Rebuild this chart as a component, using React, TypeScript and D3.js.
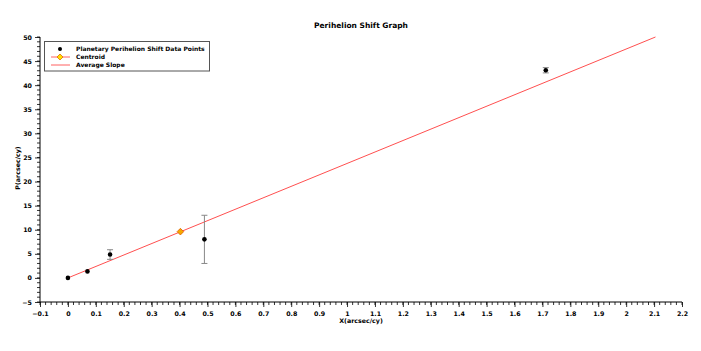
import React, { useEffect, useRef } from "react";
import * as d3 from "d3";

// planetary data points
const xs = [0, 0.07, 0.151, 0.489, 1.712];
const ps = [0, 1.35, 4.85, 8.0, 43.1];
const errs = [0, 0, 1.0, 5.0, 0.55];

const centroid = [0.403, 9.6];
const slopeLine = [[0, 0], [2.105, 50]];

const xTicks = d3.range(-0.1, 2.2001, 0.1).map(v => +v.toFixed(1));
const yTicks = d3.range(-5, 50.01, 5);

const legendLabels = ["Planetary Perihelion Shift Data Points", "Centroid", "Average Slope"];

// square rhombus path centred at 0,0
const rhombus = (s: number) => `M0,${-s}L${s},0L0,${s}L${-s},0Z`;

export default function App() {
	const ref = useRef<SVGSVGElement>(null);

	useEffect(() => {
		const svg = d3.select(ref.current);
		svg.selectAll("*").remove();
		const font = "'DejaVu Sans', sans-serif";

		const x = d3.scaleLinear().domain([-0.1, 2.2]).range([40, 682]);
		const y = d3.scaleLinear().domain([-5, 50]).range([302, 37]);

		// title
		svg.append("text").attr("x", 361).attr("y", 28).attr("text-anchor", "middle")
			.attr("font-family", font).attr("font-weight", "bold").attr("font-size", 7.5)
			.text("Perihelion Shift Graph");

		// x axis
		const xAxis = d3.axisBottom(x).tickValues(xTicks).tickSize(5).tickFormat(d => d3.format("")(d as number));
		const gx = svg.append("g").attr("transform", "translate(0,302)").call(xAxis);
		const xMinor = d3.range(-0.1, 2.2001, 0.02);
		gx.selectAll(".minor").data(xMinor).enter().append("line")
			.attr("x1", d => x(d)).attr("x2", d => x(d)).attr("y1", 0).attr("y2", 3)
			.attr("stroke", "#000").attr("stroke-width", 0.8);

		// y axis
		const yAxis = d3.axisLeft(y).tickValues(yTicks).tickSize(5);
		const gy = svg.append("g").attr("transform", "translate(40,0)").call(yAxis);
		const yMinor = d3.range(-5, 50.01, 1);
		gy.selectAll(".minor").data(yMinor).enter().append("line")
			.attr("x1", 0).attr("x2", -3).attr("y1", d => y(d)).attr("y2", d => y(d))
			.attr("stroke", "#000").attr("stroke-width", 0.8);

		[gx, gy].forEach(g => {
			g.selectAll("path.domain").attr("stroke", "#000").attr("stroke-width", 1);
			g.selectAll("text").attr("font-family", font).attr("font-weight", "bold").attr("font-size", 6.3).attr("fill", "#000");
			g.selectAll(".tick line").attr("stroke-width", 0.8);
		});
		gx.select("path.domain").attr("d", "M40,0H682");
		gy.select("path.domain").attr("d", "M0,302V37");
		gx.selectAll(".tick text").attr("dy", "0.9em");

		// axis labels
		svg.append("text").attr("x", 361).attr("y", 323).attr("text-anchor", "middle")
			.attr("font-family", font).attr("font-weight", "bold").attr("font-size", 6.3)
			.text("X(arcsec/cy)");
		svg.append("text").attr("transform", "translate(20,168) rotate(-90)").attr("text-anchor", "middle")
			.attr("font-family", font).attr("font-weight", "bold").attr("font-size", 6.3)
			.text("P(arcsec/cy)");

		// slope line
		const line = d3.line<number[]>().x(d => x(d[0])).y(d => y(d[1]));
		svg.append("path").datum(slopeLine).attr("d", line).attr("stroke", "#ff3030")
			.attr("stroke-width", 1).attr("fill", "none").attr("opacity", 0.85);

		// error bars
		const data = xs.map((v, i) => ({ x: v, p: ps[i], e: errs[i] }));
		const eb = svg.append("g").attr("stroke", "#888").attr("stroke-width", 1);
		data.filter(d => d.e > 0).forEach(d => {
			eb.append("line").attr("x1", x(d.x)).attr("x2", x(d.x)).attr("y1", y(d.p - d.e)).attr("y2", y(d.p + d.e));
			[d.p - d.e, d.p + d.e].forEach(v => {
				eb.append("line").attr("x1", x(d.x) - 3).attr("x2", x(d.x) + 3).attr("y1", y(v)).attr("y2", y(v));
			});
		});

		// points
		svg.append("g").selectAll("circle").data(data).enter().append("circle")
			.attr("cx", d => x(d.x)).attr("cy", d => y(d.p)).attr("r", 2.3).attr("fill", "#000");

		// centroid
		svg.append("path")
			.attr("d", rhombus(3.3))
			.attr("transform", `translate(${x(centroid[0])},${y(centroid[1])})`)
			.attr("fill", "#f5a800").attr("stroke", "#e06000").attr("stroke-width", 0.8);

		// legend
		const lg = svg.append("g");
		lg.append("rect").attr("x", 44.5).attr("y", 41.5).attr("width", 165).attr("height", 29.5)
			.attr("fill", "#fff").attr("stroke", "#555").attr("stroke-width", 1);
		const rows = [49, 57, 65];
		lg.append("circle").attr("cx", 60).attr("cy", rows[0]).attr("r", 2).attr("fill", "#000");
		lg.append("line").attr("x1", 51).attr("x2", 70).attr("y1", rows[1]).attr("y2", rows[1]).attr("stroke", "#ff6060");
		lg.append("line").attr("x1", 51).attr("x2", 70).attr("y1", rows[2]).attr("y2", rows[2]).attr("stroke", "#ff6060");
		lg.append("path")
			.attr("d", rhombus(3))
			.attr("transform", `translate(60,${rows[1]})`)
			.attr("fill", "#ffe000").attr("stroke", "#e07000").attr("stroke-width", 0.8);
		legendLabels.forEach((t, i) => {
			lg.append("text").attr("x", 76).attr("y", rows[i]).attr("dy", "0.35em")
				.attr("font-family", font).attr("font-weight", "bold").attr("font-size", 6).text(t);
		});
	}, []);

	return (
		<svg ref={ref} width={701} height={351} style={{ position: "absolute", left: 0, top: 0, background: "#fff" }} />
	);
}
